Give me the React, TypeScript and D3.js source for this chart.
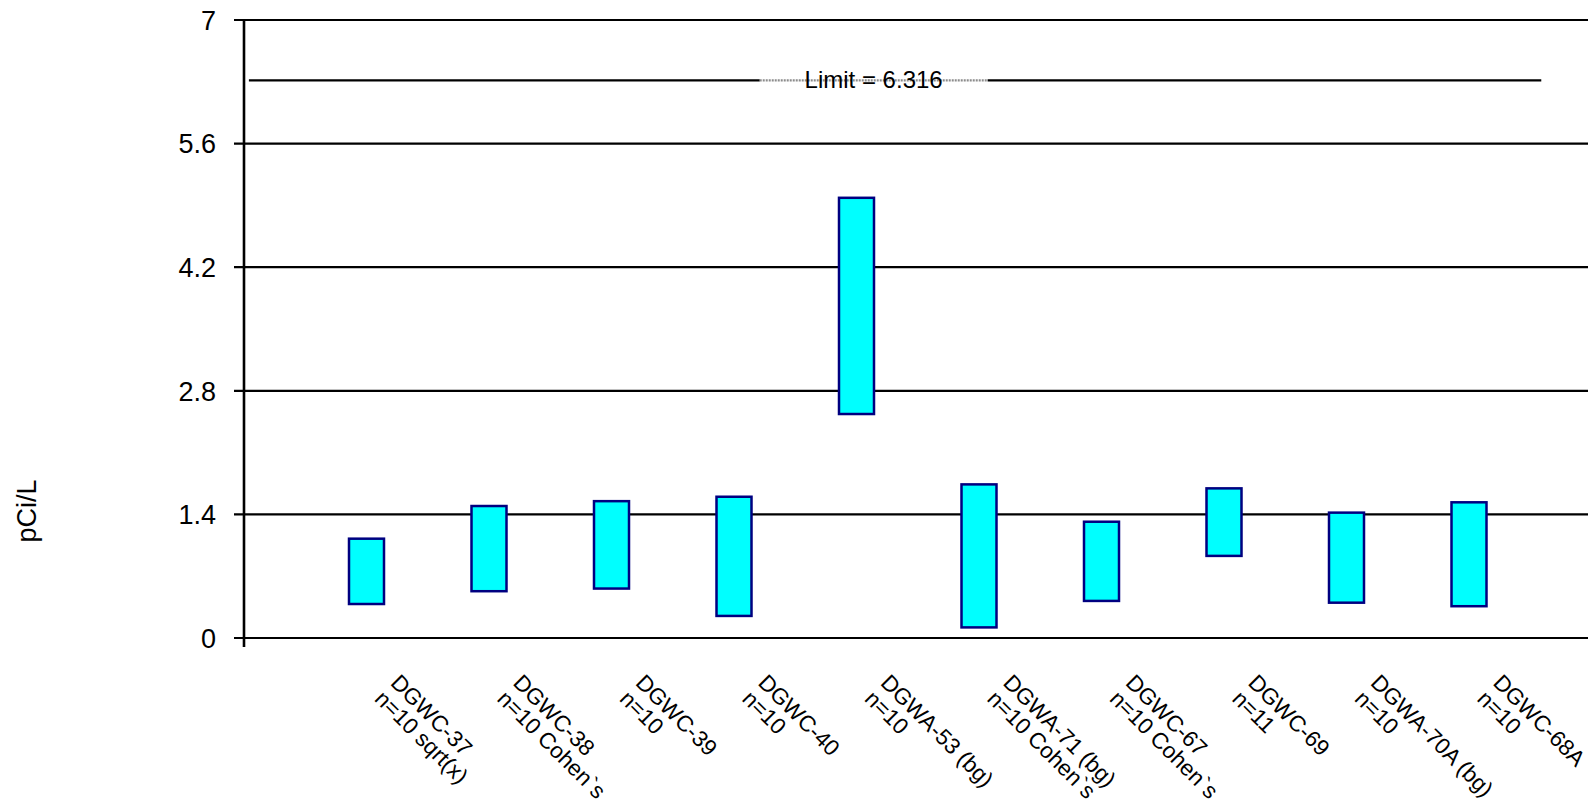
import React from "react";
import * as d3 from "d3";

const categories = ["DGWC-37", "DGWC-38", "DGWC-39", "DGWC-40", "DGWA-53 (bg)", "DGWA-71 (bg)", "DGWC-67", "DGWC-69", "DGWA-70A (bg)", "DGWC-68A"];
const subLabels = ["n=10 sqrt(x)", "n=10 Cohen`s", "n=10", "n=10", "n=10", "n=10 Cohen`s", "n=10 Cohen`s", "n=11", "n=10", "n=10"];
const lows = [0.385, 0.53, 0.56, 0.25, 2.537, 0.12, 0.42, 0.93, 0.40, 0.36];
const highs = [1.125, 1.495, 1.55, 1.60, 4.986, 1.74, 1.317, 1.695, 1.42, 1.537];
const yTicks = [0, 1.4, 2.8, 4.2, 5.6, 7];
const limitValue = 6.316;
const limitText = "Limit = 6.316";
const yTitle = "pCi/L";

const W = 1588;
const H = 812;
const FONT = "'Liberation Sans', Arial, sans-serif";

export default function App() {
  const x = d3.scaleLinear().domain([0, 11]).range([244, 244 + 122.5 * 11]);
  const y = d3.scaleLinear().domain([0, 7]).range([638, 20]);
  const barW = 35;
  const yl = y(limitValue);
  const labelCx = x(5.14);
  const grayStart = x(4.21);
  const grayEnd = x(6.07);
  const limStart = x(0.04);
  const limEnd = x(10.59);

  return (
    <svg width={W} height={H} style={{ position: "absolute", left: 0, top: 0, background: "#fff" }} fontFamily={FONT}>
      {yTicks.map((t) => (
        <g key={t}>
          <line x1={234} x2={W} y1={y(t)} y2={y(t)} stroke="#000" strokeWidth={2.2} />
          <text x={216} y={y(t)} dy="0.36em" textAnchor="end" fontSize={27} fill="#000">
            {t}
          </text>
        </g>
      ))}
      <line x1={244} x2={244} y1={y(7)} y2={y(0) + 9} stroke="#000" strokeWidth={2.6} />

      <line x1={limStart} x2={grayStart} y1={yl} y2={yl} stroke="#000" strokeWidth={2.2} />
      <line x1={grayStart} x2={grayEnd} y1={yl} y2={yl} stroke="#8c8c8c" strokeWidth={2.2} strokeDasharray="2,1" />
      <line x1={grayEnd} x2={limEnd} y1={yl} y2={yl} stroke="#000" strokeWidth={2.2} />
      <text x={labelCx} y={yl + 8} textAnchor="middle" fontSize={24} fill="#000">
        {limitText}
      </text>

      {categories.map((c, i) => (
        <rect
          key={c}
          x={x(i + 1) - barW / 2}
          y={y(highs[i])}
          width={barW}
          height={y(lows[i]) - y(highs[i])}
          fill="#00FFFF"
          stroke="#000080"
          strokeWidth={2.5}
        />
      ))}

      {categories.map((c, i) => (
        <text
          key={c + "l"}
          transform={`translate(${x(i + 1) + 23},684) rotate(45)`}
          fontSize={22.5}
          fill="#000"
        >
          <tspan x={0} dy={0}>{c}</tspan>
          <tspan x={0} dy="1.0em">{subLabels[i]}</tspan>
        </text>
      ))}

      <text transform={`translate(36,511) rotate(-90)`} textAnchor="middle" fontSize={27} fill="#000">
        {yTitle}
      </text>
    </svg>
  );
}
